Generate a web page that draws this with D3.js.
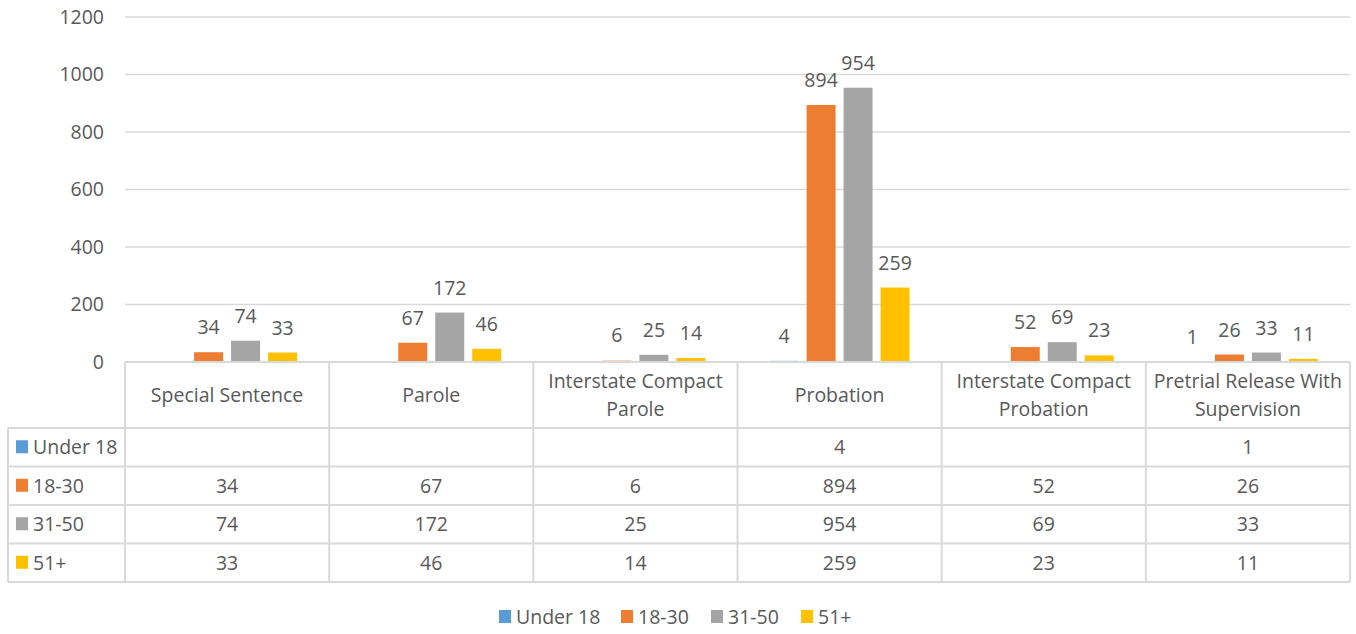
<!DOCTYPE html>
<html>
<head>
<meta charset="utf-8" />
<title></title>
<style>
html, body {
    padding: 0px;
    margin: 0px;
    background: #fff;
}
text {
    font-family: "Open Sans", sans-serif;
    fill: #595959;
}
</style>
</head>
<body>
<svg id="chart" width="1356" height="634"></svg>

<script src="https://cdnjs.cloudflare.com/ajax/libs/d3/7.8.5/d3.min.js"></script>
<script>
!(function(){
    "use strict";

    // chart data
    var categories = [
        ["Special Sentence"],
        ["Parole"],
        ["Interstate Compact", "Parole"],
        ["Probation"],
        ["Interstate Compact", "Probation"],
        ["Pretrial Release With", "Supervision"]
    ];
    var seriesNames = ["Under 18", "18-30", "31-50", "51+"];
    var under18 = [null, null, null, 4, null, 1];
    var age18to30 = [34, 67, 6, 894, 52, 26];
    var age31to50 = [74, 172, 25, 954, 69, 33];
    var age51plus = [33, 46, 14, 259, 23, 11];
    var yTicks = [0, 200, 400, 600, 800, 1000, 1200];
    var colors = ["#5B9BD5", "#ED7D31", "#A5A5A5", "#FFC000"];

    var values = [under18, age18to30, age31to50, age51plus];

    var svg = d3.select("#chart");
    var left = 125, right = 1350, top = 17, base = 362;
    var fs = 19.5;

    var catKeys = categories.map(function(c){ return c.join(" "); });

    var x = d3.scaleBand()
        .domain(catKeys)
        .range([left, right]);

    var x1 = d3.scaleBand()
        .domain(seriesNames)
        .range([0, x.bandwidth()])
        .paddingInner(0.216)
        .paddingOuter(0.868);

    var y = d3.scaleLinear()
        .domain([0, 1200])
        .range([base, top]);

    // gridlines
    svg.append("g")
        .selectAll("line")
        .data(yTicks)
        .enter()
        .append("line")
        .attr("x1", left)
        .attr("x2", right)
        .attr("y1", function(d){ return y(d); })
        .attr("y2", function(d){ return y(d); })
        .attr("stroke", "#d9d9d9")
        .attr("stroke-width", 1.5);

    // y labels
    var yAxis = d3.axisLeft(y).tickValues(yTicks).tickFormat(d3.format("d")).tickSize(0).tickPadding(0);
    var ya = svg.append("g")
        .attr("transform", "translate(104,0)")
        .call(yAxis);
    ya.select(".domain").remove();
    ya.selectAll("text")
        .attr("font-size", fs)
        .attr("font-family", "Open Sans")
        .attr("fill", "#595959");

    // bars
    var flat = [];
    values.forEach(function(arr, si){
        arr.forEach(function(v, ci){
            if (v !== null) flat.push({s: si, c: ci, v: v});
        });
    });

    var bars = svg.append("g");
    bars.selectAll("rect")
        .data(flat)
        .enter()
        .append("rect")
        .attr("x", function(d){ return x(catKeys[d.c]) + x1(seriesNames[d.s]); })
        .attr("y", function(d){ return y(d.v); })
        .attr("width", x1.bandwidth())
        .attr("height", function(d){ return base - y(d.v); })
        .attr("fill", function(d){ return colors[d.s]; })
        .attr("fill-opacity", function(d){ return (d.s === 1 && d.c === 2) ? 0.45 : 1; });

    bars.selectAll("text")
        .data(flat)
        .enter()
        .append("text")
        .attr("x", function(d){ return x(catKeys[d.c]) + x1(seriesNames[d.s]) + x1.bandwidth() / 2; })
        .attr("y", function(d){ return y(d.v) - 18; })
        .attr("text-anchor", "middle")
        .attr("font-size", fs)
        .text(function(d){ return d.v; });

    // data table
    var headH = 66, rowH = 38.5, labelLeft = 8;
    var tbl = svg.append("g");
    var lineColor = "#d9d9d9";

    // horizontal lines
    var hLines = [{y: base, x1: left}, {y: base + headH, x1: labelLeft}];
    seriesNames.forEach(function(s, i){
        hLines.push({y: base + headH + (i + 1) * rowH, x1: labelLeft});
    });
    tbl.selectAll("line.h")
        .data(hLines)
        .enter()
        .append("line")
        .attr("class", "h")
        .attr("x1", function(d){ return d.x1; })
        .attr("x2", right)
        .attr("y1", function(d){ return d.y; })
        .attr("y2", function(d){ return d.y; })
        .attr("stroke", lineColor)
        .attr("stroke-width", 2);

    var bottom = base + headH + seriesNames.length * rowH;
    var vx = catKeys.map(function(k){ return x(k); }).concat([right]);
    tbl.selectAll("line.v")
        .data(vx)
        .enter()
        .append("line")
        .attr("class", "v")
        .attr("x1", function(d){ return d; })
        .attr("x2", function(d){ return d; })
        .attr("y1", base)
        .attr("y2", bottom)
        .attr("stroke", lineColor)
        .attr("stroke-width", 2);
    tbl.append("line")
        .attr("x1", labelLeft).attr("x2", labelLeft)
        .attr("y1", base + headH).attr("y2", bottom)
        .attr("stroke", lineColor).attr("stroke-width", 2);

    // header labels
    var head = tbl.selectAll("text.head")
        .data(categories)
        .enter()
        .append("text")
        .attr("class", "head")
        .attr("text-anchor", "middle")
        .attr("font-size", fs)
        .attr("x", function(d, i){ return x(catKeys[i]) + x.bandwidth() / 2; })
        .attr("y", function(d){ return base + headH / 2 + 7 - (d.length - 1) * 14; });
    head.each(function(d){
        var t = d3.select(this);
        d.forEach(function(line, j){
            t.append("tspan")
                .attr("x", t.attr("x"))
                .attr("dy", j === 0 ? 0 : 28)
                .text(line);
        });
    });

    // row labels and cells
    seriesNames.forEach(function(s, si){
        var cy = base + headH + si * rowH + rowH / 2 + 7;
        tbl.append("rect")
            .attr("x", 16).attr("y", cy - 14)
            .attr("width", 12).attr("height", 13)
            .attr("fill", colors[si]);
        tbl.append("text")
            .attr("x", 33).attr("y", cy)
            .attr("font-size", fs)
            .text(s);
        tbl.selectAll("text.c" + si)
            .data(values[si])
            .enter()
            .append("text")
            .attr("class", "c" + si)
            .attr("text-anchor", "middle")
            .attr("font-size", fs)
            .attr("x", function(d, i){ return x(catKeys[i]) + x.bandwidth() / 2; })
            .attr("y", cy)
            .text(function(d){ return d === null ? "" : d; });
    });

    // legend
    var legX = [499, 621, 711, 801];
    var leg = svg.append("g").selectAll("g")
        .data(seriesNames)
        .enter()
        .append("g")
        .attr("transform", function(d, i){ return "translate(" + legX[i] + ",617)"; });
    leg.append("rect")
        .attr("x", 0).attr("y", -7)
        .attr("width", 12).attr("height", 13)
        .attr("fill", function(d, i){ return colors[i]; });
    leg.append("text")
        .attr("x", 17).attr("y", 7)
        .attr("font-size", fs)
        .text(function(d){ return d; });

}());
</script>
</body>
</html>
